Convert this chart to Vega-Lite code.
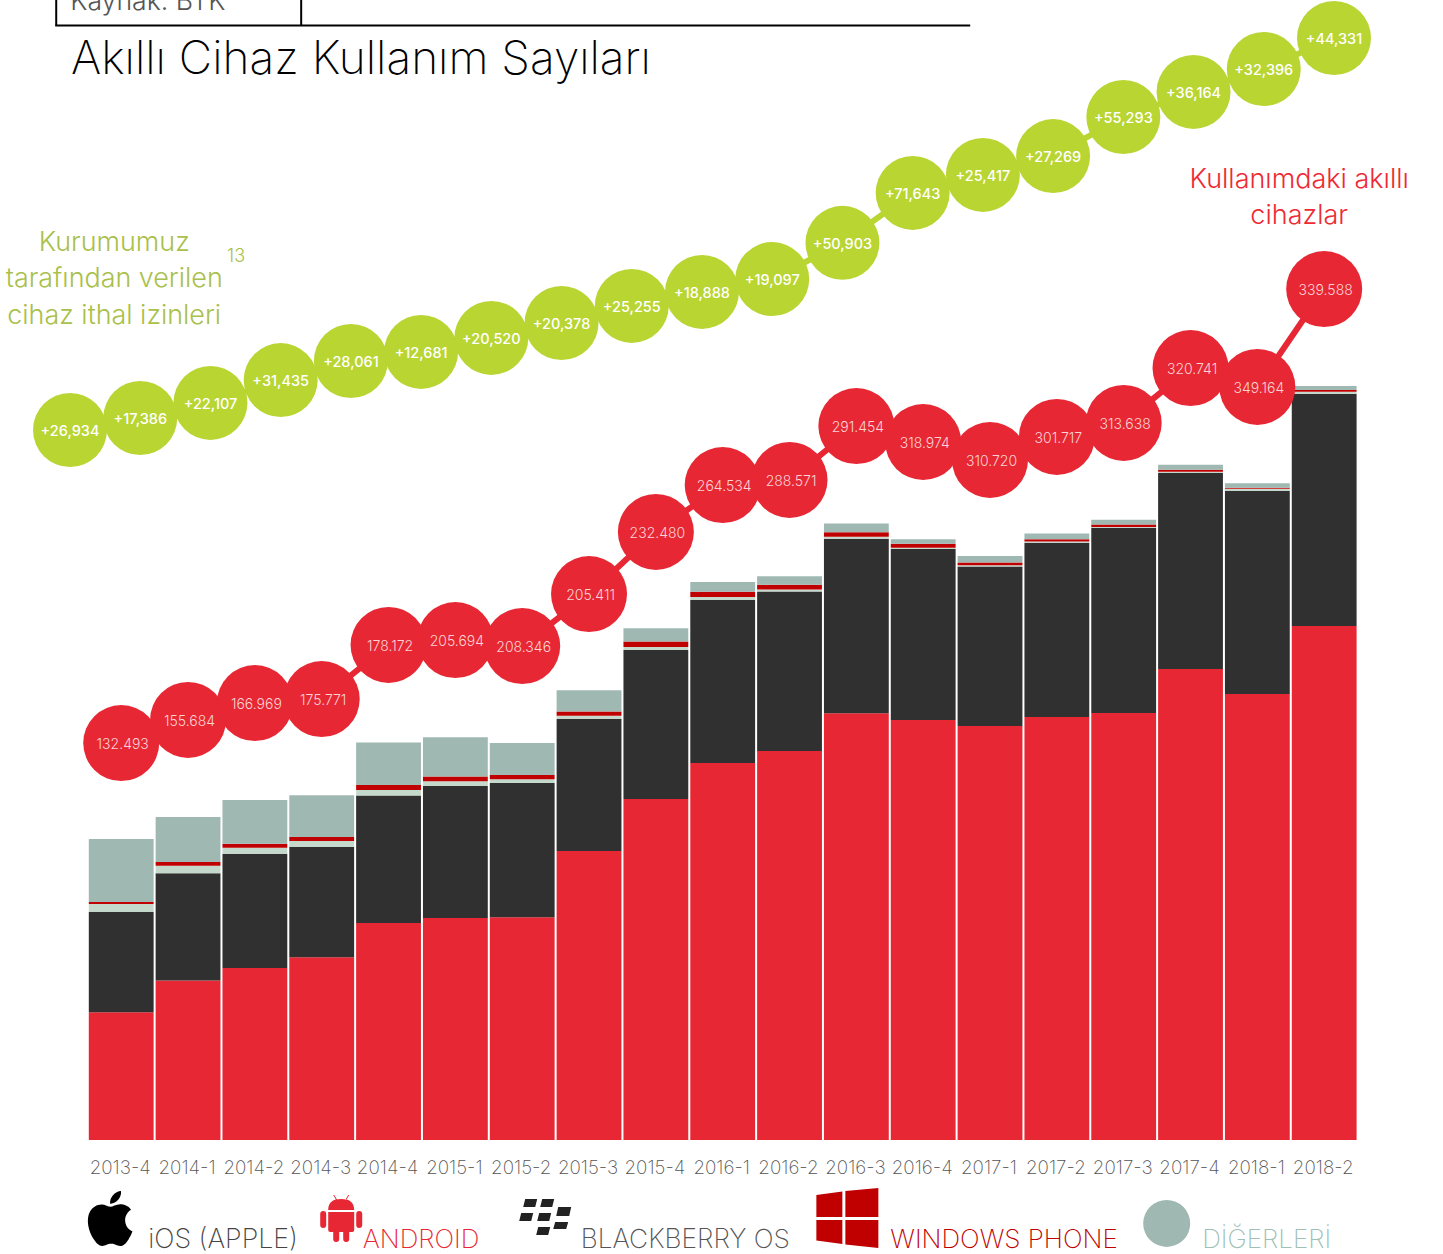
{"$schema":"https://vega.github.io/schema/vega-lite/v6.json","width":1443,"height":1140,"padding":{"left":0,"top":0,"right":0,"bottom":114},"autosize":"none","background":"#ffffff","title":{"text":"Akıllı Cihaz Kullanım Sayıları","anchor":"start","frame":"group","dx":71,"offset":-131.5,"baseline":"alphabetic","fontSize":46,"font":"Inter","fontWeight":200,"color":"#000000"},"config":{"view":{"stroke":null},"font":"Inter"},"datasets":{"devices":[
{"quarter":"2013-4","platform":"ANDROID","rank":1,"value":57.5},{"quarter":"2013-4","platform":"iOS (APPLE)","rank":2,"value":45.3},{"quarter":"2013-4","platform":"BLACKBERRY OS","rank":3,"value":3.5},{"quarter":"2013-4","platform":"WINDOWS PHONE","rank":4,"value":0.9},{"quarter":"2013-4","platform":"DİĞERLERİ","rank":5,"value":28.4},
{"quarter":"2014-1","platform":"ANDROID","rank":1,"value":71.8},{"quarter":"2014-1","platform":"iOS (APPLE)","rank":2,"value":48.4},{"quarter":"2014-1","platform":"BLACKBERRY OS","rank":3,"value":3.3},{"quarter":"2014-1","platform":"WINDOWS PHONE","rank":4,"value":1.7},{"quarter":"2014-1","platform":"DİĞERLERİ","rank":5,"value":20.3},
{"quarter":"2014-2","platform":"ANDROID","rank":1,"value":77.5},{"quarter":"2014-2","platform":"iOS (APPLE)","rank":2,"value":51.4},{"quarter":"2014-2","platform":"BLACKBERRY OS","rank":3,"value":2.7},{"quarter":"2014-2","platform":"WINDOWS PHONE","rank":4,"value":1.8},{"quarter":"2014-2","platform":"DİĞERLERİ","rank":5,"value":19.7},
{"quarter":"2014-3","platform":"ANDROID","rank":1,"value":82.3},{"quarter":"2014-3","platform":"iOS (APPLE)","rank":2,"value":49.8},{"quarter":"2014-3","platform":"BLACKBERRY OS","rank":3,"value":2.6},{"quarter":"2014-3","platform":"WINDOWS PHONE","rank":4,"value":1.8},{"quarter":"2014-3","platform":"DİĞERLERİ","rank":5,"value":18.8},
{"quarter":"2014-4","platform":"ANDROID","rank":1,"value":97.7},{"quarter":"2014-4","platform":"iOS (APPLE)","rank":2,"value":57.5},{"quarter":"2014-4","platform":"BLACKBERRY OS","rank":3,"value":2.4},{"quarter":"2014-4","platform":"WINDOWS PHONE","rank":4,"value":2.3},{"quarter":"2014-4","platform":"DİĞERLERİ","rank":5,"value":19.2},
{"quarter":"2015-1","platform":"ANDROID","rank":1,"value":100},{"quarter":"2015-1","platform":"iOS (APPLE)","rank":2,"value":59.5},{"quarter":"2015-1","platform":"BLACKBERRY OS","rank":3,"value":2.1},{"quarter":"2015-1","platform":"WINDOWS PHONE","rank":4,"value":2.1},{"quarter":"2015-1","platform":"DİĞERLERİ","rank":5,"value":17.7},
{"quarter":"2015-2","platform":"ANDROID","rank":1,"value":100.3},{"quarter":"2015-2","platform":"iOS (APPLE)","rank":2,"value":60.5},{"quarter":"2015-2","platform":"BLACKBERRY OS","rank":3,"value":1.7},{"quarter":"2015-2","platform":"WINDOWS PHONE","rank":4,"value":1.9},{"quarter":"2015-2","platform":"DİĞERLERİ","rank":5,"value":14.4},
{"quarter":"2015-3","platform":"ANDROID","rank":1,"value":130.2},{"quarter":"2015-3","platform":"iOS (APPLE)","rank":2,"value":59.5},{"quarter":"2015-3","platform":"BLACKBERRY OS","rank":3,"value":1.4},{"quarter":"2015-3","platform":"WINDOWS PHONE","rank":4,"value":1.9},{"quarter":"2015-3","platform":"DİĞERLERİ","rank":5,"value":9.6},
{"quarter":"2015-4","platform":"ANDROID","rank":1,"value":153.6},{"quarter":"2015-4","platform":"iOS (APPLE)","rank":2,"value":67.1},{"quarter":"2015-4","platform":"BLACKBERRY OS","rank":3,"value":1.4},{"quarter":"2015-4","platform":"WINDOWS PHONE","rank":4,"value":2.4},{"quarter":"2015-4","platform":"DİĞERLERİ","rank":5,"value":6.0},
{"quarter":"2016-1","platform":"ANDROID","rank":1,"value":169.8},{"quarter":"2016-1","platform":"iOS (APPLE)","rank":2,"value":73.4},{"quarter":"2016-1","platform":"BLACKBERRY OS","rank":3,"value":1.4},{"quarter":"2016-1","platform":"WINDOWS PHONE","rank":4,"value":2.4},{"quarter":"2016-1","platform":"DİĞERLERİ","rank":5,"value":4.4},
{"quarter":"2016-2","platform":"ANDROID","rank":1,"value":175.2},{"quarter":"2016-2","platform":"iOS (APPLE)","rank":2,"value":71.9},{"quarter":"2016-2","platform":"BLACKBERRY OS","rank":3,"value":0.9},{"quarter":"2016-2","platform":"WINDOWS PHONE","rank":4,"value":2.1},{"quarter":"2016-2","platform":"DİĞERLERİ","rank":5,"value":3.8},
{"quarter":"2016-3","platform":"ANDROID","rank":1,"value":192.2},{"quarter":"2016-3","platform":"iOS (APPLE)","rank":2,"value":78.6},{"quarter":"2016-3","platform":"BLACKBERRY OS","rank":3,"value":0.9},{"quarter":"2016-3","platform":"WINDOWS PHONE","rank":4,"value":2.1},{"quarter":"2016-3","platform":"DİĞERLERİ","rank":5,"value":3.9},
{"quarter":"2016-4","platform":"ANDROID","rank":1,"value":189.2},{"quarter":"2016-4","platform":"iOS (APPLE)","rank":2,"value":77.0},{"quarter":"2016-4","platform":"BLACKBERRY OS","rank":3,"value":0.6},{"quarter":"2016-4","platform":"WINDOWS PHONE","rank":4,"value":1.8},{"quarter":"2016-4","platform":"DİĞERLERİ","rank":5,"value":2.0},
{"quarter":"2017-1","platform":"ANDROID","rank":1,"value":186.5},{"quarter":"2017-1","platform":"iOS (APPLE)","rank":2,"value":71.8},{"quarter":"2017-1","platform":"BLACKBERRY OS","rank":3,"value":0.6},{"quarter":"2017-1","platform":"WINDOWS PHONE","rank":4,"value":1.2},{"quarter":"2017-1","platform":"DİĞERLERİ","rank":5,"value":2.9},
{"quarter":"2017-2","platform":"ANDROID","rank":1,"value":190.5},{"quarter":"2017-2","platform":"iOS (APPLE)","rank":2,"value":78.5},{"quarter":"2017-2","platform":"BLACKBERRY OS","rank":3,"value":0.6},{"quarter":"2017-2","platform":"WINDOWS PHONE","rank":4,"value":1.0},{"quarter":"2017-2","platform":"DİĞERLERİ","rank":5,"value":2.6},
{"quarter":"2017-3","platform":"ANDROID","rank":1,"value":192.3},{"quarter":"2017-3","platform":"iOS (APPLE)","rank":2,"value":83.5},{"quarter":"2017-3","platform":"BLACKBERRY OS","rank":3,"value":0.3},{"quarter":"2017-3","platform":"WINDOWS PHONE","rank":4,"value":1.2},{"quarter":"2017-3","platform":"DİĞERLERİ","rank":5,"value":2.1},
{"quarter":"2017-4","platform":"ANDROID","rank":1,"value":212.2},{"quarter":"2017-4","platform":"iOS (APPLE)","rank":2,"value":88.2},{"quarter":"2017-4","platform":"BLACKBERRY OS","rank":3,"value":0.6},{"quarter":"2017-4","platform":"WINDOWS PHONE","rank":4,"value":0.9},{"quarter":"2017-4","platform":"DİĞERLERİ","rank":5,"value":2.3},
{"quarter":"2018-1","platform":"ANDROID","rank":1,"value":200.9},{"quarter":"2018-1","platform":"iOS (APPLE)","rank":2,"value":91.4},{"quarter":"2018-1","platform":"BLACKBERRY OS","rank":3,"value":1.0},{"quarter":"2018-1","platform":"WINDOWS PHONE","rank":4,"value":0.5},{"quarter":"2018-1","platform":"DİĞERLERİ","rank":5,"value":2.0},
{"quarter":"2018-2","platform":"ANDROID","rank":1,"value":231.5},{"quarter":"2018-2","platform":"iOS (APPLE)","rank":2,"value":104.6},{"quarter":"2018-2","platform":"BLACKBERRY OS","rank":3,"value":0.9},{"quarter":"2018-2","platform":"WINDOWS PHONE","rank":4,"value":0.8},{"quarter":"2018-2","platform":"DİĞERLERİ","rank":5,"value":1.8}
],"inUse":[
{"quarter":"2013-4","level":178.8,"label":"132.493"},{"quarter":"2014-1","level":189.2,"label":"155.684"},{"quarter":"2014-2","level":196.8,"label":"166.969"},{"quarter":"2014-3","level":198.6,"label":"175.771"},{"quarter":"2014-4","level":223.0,"label":"178.172"},{"quarter":"2015-1","level":225.2,"label":"205.694"},{"quarter":"2015-2","level":222.5,"label":"208.346"},{"quarter":"2015-3","level":245.9,"label":"205.411"},{"quarter":"2015-4","level":273.9,"label":"232.480"},{"quarter":"2016-1","level":295.0,"label":"264.534"},{"quarter":"2016-2","level":297.3,"label":"288.571"},{"quarter":"2016-3","level":321.6,"label":"291.454"},{"quarter":"2016-4","level":314.4,"label":"318.974"},{"quarter":"2017-1","level":306.3,"label":"310.720"},{"quarter":"2017-2","level":316.7,"label":"301.717"},{"quarter":"2017-3","level":323.0,"label":"313.638"},{"quarter":"2017-4","level":347.7,"label":"320.741"},{"quarter":"2018-1","level":339.2,"label":"349.164"},{"quarter":"2018-2","level":383.3,"label":"339.588"}
],"permits":[
{"quarter":"2013-4","level":319.8,"label":"+26,934"},{"quarter":"2014-1","level":325.2,"label":"+17,386"},{"quarter":"2014-2","level":332.0,"label":"+22,107"},{"quarter":"2014-3","level":342.3,"label":"+31,435"},{"quarter":"2014-4","level":350.9,"label":"+28,061"},{"quarter":"2015-1","level":355.0,"label":"+12,681"},{"quarter":"2015-2","level":361.3,"label":"+20,520"},{"quarter":"2015-3","level":368.0,"label":"+20,378"},{"quarter":"2015-4","level":375.7,"label":"+25,255"},{"quarter":"2016-1","level":382.0,"label":"+18,888"},{"quarter":"2016-2","level":387.8,"label":"+19,097"},{"quarter":"2016-3","level":404.1,"label":"+50,903"},{"quarter":"2016-4","level":426.6,"label":"+71,643"},{"quarter":"2017-1","level":434.7,"label":"+25,417"},{"quarter":"2017-2","level":443.2,"label":"+27,269"},{"quarter":"2017-3","level":460.8,"label":"+55,293"},{"quarter":"2017-4","level":472.1,"label":"+36,164"},{"quarter":"2018-1","level":482.4,"label":"+32,396"},{"quarter":"2018-2","level":496.4,"label":"+44,331"}
]},
"layer":[
{"layer":[
{"data":{"name":"devices"},"mark":{"type":"bar"},"encoding":{"x":{"field":"quarter","type":"ordinal","sort":null,"scale":{"range":[87.8,1357.6],"paddingInner":0.03,"paddingOuter":0.015},"axis":{"title":null,"domain":false,"ticks":false,"labelAngle":0,"labelFontSize":18.8,"labelFont":"Inter","labelFontWeight":200,"labelColor":"#555555","labelPadding":18,"labelOverlap":false,"grid":false,"labelOffset":-1}},"y":{"field":"value","type":"quantitative","stack":"zero","scale":{"domain":[0,513.5],"nice":false,"zero":false},"axis":null},"color":{"field":"platform","type":"nominal","scale":{"domain":["iOS (APPLE)","ANDROID","BLACKBERRY OS","WINDOWS PHONE","DİĞERLERİ"],"range":["#303030","#e72733","#c5d8cc","#c00000","#9fb8b2"]},"legend":null},"order":{"field":"rank","type":"quantitative"}}},
{"data":{"name":"inUse"},"mark":{"type":"line","color":"#e72733","strokeWidth":6},"encoding":{"x":{"field":"quarter","type":"ordinal","sort":null},"y":{"field":"level","type":"quantitative"}}},
{"data":{"name":"inUse"},"mark":{"type":"point","filled":true,"opacity":1,"color":"#e72733","size":5776},"encoding":{"x":{"field":"quarter","type":"ordinal","sort":null},"y":{"field":"level","type":"quantitative"}}},
{"data":{"name":"inUse"},"mark":{"type":"text","color":"#fbd3d5","fontSize":14,"fontWeight":300,"font":"Inter","dx":1.5,"dy":2},"encoding":{"x":{"field":"quarter","type":"ordinal","sort":null},"y":{"field":"level","type":"quantitative"},"text":{"field":"label"}}},
{"data":{"values":[{"t":""}]},"mark":{"type":"rule","color":"#000000","strokeWidth":2,"xOffset":-66,"x2Offset":47},"encoding":{"x":{"datum":"2013-4"},"x2":{"datum":"2016-4"},"y":{"datum":502}}},
{"data":{"values":[{"t":""}]},"mark":{"type":"rule","color":"#000000","strokeWidth":2,"xOffset":-65},"encoding":{"x":{"datum":"2013-4"},"y":{"datum":502},"y2":{"datum":513.5}}},
{"data":{"values":[{"t":""}]},"mark":{"type":"rule","color":"#000000","strokeWidth":2,"xOffset":46.3},"encoding":{"x":{"datum":"2014-2"},"y":{"datum":502},"y2":{"datum":513.5}}},
{"data":{"values":[{"t":"Kaynak: BTK"}]},"mark":{"type":"text","align":"left","baseline":"alphabetic","dx":-51,"fontSize":26.6,"fontWeight":300,"color":"#555555","font":"Inter"},"encoding":{"x":{"datum":"2013-4"},"y":{"datum":509},"text":{"field":"t"}}},
{"data":{"values":[{"t":"Kurumumuz\ntarafından verilen\ncihaz ithal izinleri"}]},"mark":{"type":"text","align":"center","baseline":"alphabetic","dx":-7,"fontSize":26.9,"fontWeight":300,"color":"#a9c04a","font":"Inter","lineBreak":"\n","lineHeight":36.5},"encoding":{"x":{"datum":"2013-4"},"y":{"datum":400.6},"text":{"field":"t"}}},
{"data":{"values":[{"t":"13"}]},"mark":{"type":"text","align":"center","baseline":"alphabetic","dx":48,"fontSize":18,"fontWeight":300,"color":"#a9c04a","font":"Inter"},"encoding":{"x":{"datum":"2014-1"},"y":{"datum":395.7},"text":{"field":"t"}}},
{"data":{"values":[{"t":"Kullanımdaki akıllı\ncihazlar"}]},"mark":{"type":"text","align":"center","baseline":"alphabetic","dx":-25,"fontSize":27,"fontWeight":300,"color":"#ee2a35","font":"Inter","lineBreak":"\n","lineHeight":35.5},"encoding":{"x":{"datum":"2018-2"},"y":{"datum":428.8},"text":{"field":"t"}}},
{"data":{"values":[{"platform":"iOS (APPLE)"}]},"mark":{"type":"point","filled":true,"opacity":1,"color":"#000000","size":30.25,"xOffset":-44,"yOffset":1.1,"shape":"M18.71,19.5C17.88,20.74 17,21.95 15.66,21.97C14.32,22 13.89,21.18 12.37,21.18C10.84,21.18 10.37,21.95 9.1,22C7.79,22.05 6.8,20.68 5.96,19.47C4.25,17 2.94,12.45 4.7,9.39C5.57,7.87 7.13,6.91 8.82,6.88C10.1,6.86 11.32,7.75 12.11,7.75C12.89,7.75 14.37,6.68 15.92,6.84C16.57,6.87 18.39,7.1 19.56,8.82C19.47,8.88 17.39,10.1 17.41,12.63C17.44,15.65 20.06,16.66 20.09,16.67C20.06,16.74 19.67,18.11 18.71,19.5M13,3.5C13.73,2.67 14.94,2.04 15.94,2C16.07,3.17 15.6,4.35 14.9,5.19C14.21,6.04 13.07,6.7 11.95,6.61C11.8,5.46 12.36,4.26 13,3.5Z"},"encoding":{"x":{"datum":"2013-4"},"y":{"datum":-20}}},
{"data":{"values":[{"platform":"ANDROID"}]},"mark":{"type":"point","filled":true,"opacity":1,"color":"#e72733","size":4,"xOffset":-1.5,"yOffset":10.6,"shape":"M8,15C8,7 13,4 21,4C29,4 34,7 34,15ZM13,0L14,0L17,5L16,5ZM29,0L28,0L25,5L26,5ZM8,17H34V35Q34,37 32,37H10Q8,37 8,35ZM0,19Q0,16 3,16Q6,16 6,19V30Q6,33 3,33Q0,33 0,30ZM36,19Q36,16 39,16Q42,16 42,19V30Q42,33 39,33Q36,33 36,30ZM13,37H19V44Q19,47 16,47Q13,47 13,44ZM23,37H29V44Q29,47 26,47Q23,47 23,44Z"},"encoding":{"x":{"datum":"2014-3"},"y":{"datum":-20}}},
{"data":{"values":[{"platform":"BLACKBERRY OS"}]},"mark":{"type":"point","filled":true,"opacity":1,"color":"#222222","size":4,"xOffset":-2,"yOffset":14.6,"shape":"M5,0H17L15,8H3ZM22,0H34L32,8H20ZM38,8H51L49,17H36ZM1,14H13L11,22H-1ZM19,14H31L29,22H17ZM35,23H48L46,30H33ZM18,28H30L28,36H16Z"},"encoding":{"x":{"datum":"2015-2"},"y":{"datum":-20}}},
{"data":{"values":[{"platform":"WINDOWS PHONE"}]},"mark":{"type":"point","filled":true,"opacity":1,"color":"#c00000","size":4,"xOffset":-40,"yOffset":3.6,"shape":"M0,7L26,3.5V29H0ZM29,3L62,0V29H29ZM0,32H26V56L0,52.5ZM29,32H62V60L29,56.5Z"},"encoding":{"x":{"datum":"2016-3"},"y":{"datum":-20}}},
{"data":{"values":[{"platform":"DİĞERLERİ"}]},"mark":{"type":"point","filled":true,"opacity":1,"color":"#9fb8b2","size":2209,"xOffset":43,"yOffset":39},"encoding":{"x":{"datum":"2017-3"},"y":{"datum":-20}}},
{"data":{"values":[{"platform":"iOS (APPLE)"}]},"mark":{"type":"text","align":"left","baseline":"alphabetic","dx":27,"fontSize":26.8,"fontWeight":200,"color":"#444444","font":"Inter"},"encoding":{"x":{"datum":"2013-4"},"y":{"datum":-48.6},"text":{"field":"platform"}}},
{"data":{"values":[{"platform":"ANDROID"}]},"mark":{"type":"text","align":"left","baseline":"alphabetic","dx":41,"fontSize":26,"fontWeight":200,"color":"#e72733","font":"Inter"},"encoding":{"x":{"datum":"2014-3"},"y":{"datum":-48.6},"text":{"field":"platform"}}},
{"data":{"values":[{"platform":"BLACKBERRY OS"}]},"mark":{"type":"text","align":"left","baseline":"alphabetic","dx":-8.3,"fontSize":26.3,"fontWeight":200,"color":"#555555","font":"Inter"},"encoding":{"x":{"datum":"2015-3"},"y":{"datum":-48.6},"text":{"field":"platform"}}},
{"data":{"values":[{"platform":"WINDOWS PHONE"}]},"mark":{"type":"text","align":"left","baseline":"alphabetic","dx":33.9,"fontSize":26,"fontWeight":200,"color":"#c00000","font":"Inter"},"encoding":{"x":{"datum":"2016-3"},"y":{"datum":-48.6},"text":{"field":"platform"}}},
{"data":{"values":[{"platform":"DİĞERLERİ"}]},"mark":{"type":"text","align":"left","baseline":"alphabetic","dx":78.5,"fontSize":26,"fontWeight":200,"color":"#a0bfb6","font":"Inter"},"encoding":{"x":{"datum":"2017-3"},"y":{"datum":-48.6},"text":{"field":"platform"}}}
]},
{"layer":[
{"data":{"name":"permits"},"mark":{"type":"line","color":"#b9d532","strokeWidth":6},"encoding":{"x":{"field":"quarter","type":"ordinal","sort":null,"scale":{"range":[34.9,1369.1],"paddingInner":0,"paddingOuter":0},"axis":null},"y":{"field":"level","type":"quantitative"}}},
{"data":{"name":"permits"},"mark":{"type":"point","filled":true,"opacity":1,"color":"#b9d532","size":5476},"encoding":{"x":{"field":"quarter","type":"ordinal","sort":null},"y":{"field":"level","type":"quantitative"}}},
{"data":{"name":"permits"},"mark":{"type":"text","color":"#ffffff","fontSize":14.5,"fontWeight":500,"font":"Inter","dy":2},"encoding":{"x":{"field":"quarter","type":"ordinal","sort":null},"y":{"field":"level","type":"quantitative"},"text":{"field":"label"}}}
]}
],"resolve":{"scale":{"x":"independent"}}}
